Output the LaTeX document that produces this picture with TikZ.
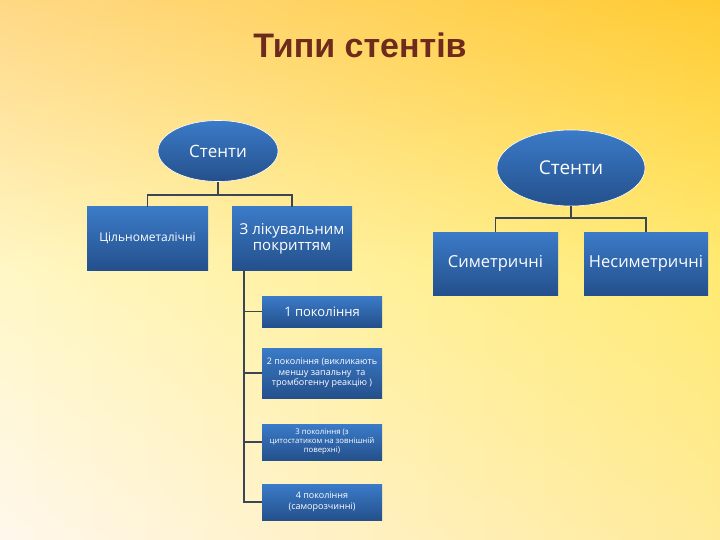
\documentclass[tikz,border=0pt]{standalone}
\usepackage{fontspec}
\setmainfont{Open Sans}
\newfontfamily\titlefont{Liberation Sans}
\usetikzlibrary{shapes.geometric}
\definecolor{boxtop}{HTML}{3B7BC8}
\definecolor{boxbot}{HTML}{24508C}
\definecolor{linec}{HTML}{3A4656}
\definecolor{titlec}{HTML}{6E2A1C}
\tikzset{
  bx/.style={draw=none, top color=boxtop, bottom color=boxbot, text=white, align=center, inner sep=1pt},
  el/.style={ellipse, draw=white, line width=0.6pt, top color=boxtop, bottom color=boxbot, text=white},
  ln/.style={draw=linec, line width=1.3pt}
}
\begin{document}
\begin{tikzpicture}[x=1pt,y=-1pt]
\useasboundingbox (0,0) rectangle (720,540);
\shade[left color=white!85!yellow!60!orange!30, right color=orange!40!yellow!80] (0,0) rectangle (720,540);
\shade[top color=orange!60!yellow!80, bottom color=white, middle color=white!70!yellow, opacity=0.5] (0,0) rectangle (720,540);
\node[font=\titlefont\bfseries\fontsize{34}{38}\selectfont, text=titlec] (title) at (360,45) {Типи стентів};

\node[el, minimum width=120, minimum height=61, font=\fontsize{17}{19}\selectfont] (e1) at (218,151) {Стенти};
\node[bx, minimum width=121, minimum height=63, font=\fontsize{12}{14}\selectfont] (a1) at (147.5,238.5) {Цільнометалічні};
\node[bx, minimum width=120, minimum height=63, font=\fontsize{15}{16}\selectfont] (a2) at (292,238.5) {З лікувальним\\покриттям};
\draw[ln] (e1.south) -- (218,195) -| (a1.north);
\draw[ln] (218,195) -| (a2.north);

\node[el, minimum width=148, minimum height=76, font=\fontsize{19}{21}\selectfont] (e2) at (571,168) {Стенти};
\node[bx, minimum width=125, minimum height=63, font=\fontsize{16.5}{18}\selectfont] (b1) at (495.5,263.5) {Симетричні};
\node[bx, minimum width=124, minimum height=63, font=\fontsize{16.5}{18}\selectfont] (b2) at (646,263.5) {Несиметричні};
\draw[ln] (e2.south) -- (571,218) -| (b1.north);
\draw[ln] (571,218) -| (b2.north);

\node[bx, minimum width=120, minimum height=31, font=\fontsize{13}{15}\selectfont] (c1) at (322,311.5) {1 покоління};
\node[bx, minimum width=120, minimum height=50, font=\fontsize{9}{10.5}\selectfont] (c2) at (322,373) {2 покоління (викликають\\меншу запальну\ \ та\\тромбогенну реакцію )};
\node[bx, minimum width=120, minimum height=36, font=\fontsize{7.8}{9}\selectfont] (c3) at (322,442) {3 покоління (з\\цитостатиком на зовнішній\\поверхні)};
\node[bx, minimum width=120, minimum height=36, font=\fontsize{9}{10.5}\selectfont] (c4) at (322,502) {4 покоління\\(саморозчинні)};
\coordinate (v) at (244,270);
\draw[ln] (v) -- (244,502) -- (c4.west);
\draw[ln] (244,311.5) -- (c1.west);
\draw[ln] (244,373) -- (c2.west);
\draw[ln] (244,442) -- (c3.west);
\end{tikzpicture}
\end{document}
